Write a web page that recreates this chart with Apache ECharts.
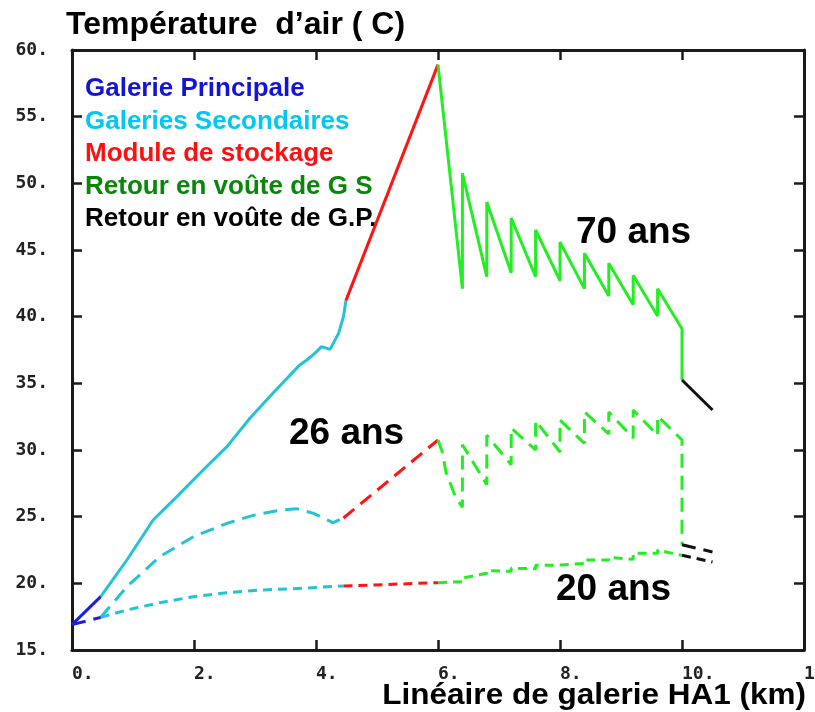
<!DOCTYPE html>
<html>
<head>
<meta charset="utf-8">
<script src="https://cdn.jsdelivr.net/npm/echarts@6/dist/echarts.min.js"></script>
<style>
  html, body { margin: 0; padding: 0; background: #ffffff; overflow: hidden; }
  #chart { width: 815px; height: 712px; }
</style>
</head>
<body>
<div id="chart"></div>
<script>
// Axis ranges (km along gallery HA1, air temperature in degrees C)
const kmRange = [0, 12];
const kmStep = 2;
const tempRange = [15, 60];
const tempStep = 5;

// ---- 70 years (solid) ----
const principal70 = [[0, 16.9], [0.47, 19.0]];
const secondary70 = [[0.47, 19.0], [0.9, 21.75], [1.33, 24.75], [1.72, 26.5], [2.15, 28.5], [2.54, 30.25],
  [2.92, 32.4], [3.3, 34.3], [3.55, 35.5], [3.74, 36.4], [3.85, 36.75], [3.98, 37.25], [4.09, 37.75],
  [4.23, 37.55], [4.37, 38.75], [4.45, 40.0], [4.49, 41.2]];
const storage70 = [[4.49, 41.2], [6.0, 58.9]];
const returnGS70 = [[6.0, 58.9], [6.4, 42.1], [6.4, 50.75], [6.8, 43.0], [6.8, 48.6], [7.2, 43.3], [7.2, 47.4],
  [7.6, 43.0], [7.6, 46.5], [8.0, 42.7], [8.0, 45.6], [8.4, 42.1], [8.4, 44.75], [8.8, 41.55], [8.8, 44.0],
  [9.2, 40.9], [9.2, 43.1], [9.6, 40.05], [9.6, 42.1], [10.0, 39.1], [10.0, 35.25]];
const returnGP70 = [[10.0, 35.25], [10.5, 33.0]];

// ---- 26 years (long dashes) ----
const principalLow = [[0, 16.9], [0.47, 17.45]];
const secondary26 = [[0.47, 17.45], [0.9, 19.75], [1.44, 22.0], [1.99, 23.5], [2.54, 24.5], [2.97, 25.1],
  [3.36, 25.45], [3.68, 25.6], [3.96, 25.25], [4.28, 24.55], [4.45, 24.9]];
const storage26 = [[4.45, 24.9], [6.0, 30.75]];
const returnGS26 = [[6.0, 30.75], [6.07, 29.85], [6.13, 28.35], [6.28, 26.55], [6.4, 25.7], [6.4, 30.4],
  [6.8, 27.4], [6.8, 31.1], [7.2, 28.9], [7.2, 31.65], [7.6, 30.0], [7.6, 32.2], [8.0, 29.85], [8.0, 32.25],
  [8.4, 30.5], [8.4, 32.85], [8.8, 31.2], [8.8, 32.85], [9.2, 30.9], [9.2, 33.0], [9.6, 31.1], [9.6, 32.55],
  [10.0, 30.75], [10.0, 22.9]];
const returnGP26 = [[10.0, 22.9], [10.5, 22.35]];

// ---- 20 years (short dashes) ----
const secondary20 = [[0.47, 17.45], [0.9, 18.0], [1.44, 18.55], [1.99, 19.0], [2.54, 19.3], [3.08, 19.5],
  [3.63, 19.6], [4.45, 19.8]];
const storage20 = [[4.45, 19.8], [6.0, 20.05]];
const returnGS20 = [[6.0, 20.05], [6.4, 20.12], [6.4, 20.4], [6.8, 20.75], [6.8, 20.95], [7.2, 20.9], [7.2, 21.13],
  [7.6, 21.1], [7.6, 21.35], [8.0, 21.37], [8.0, 21.5], [8.4, 21.5], [8.4, 21.75], [8.8, 21.75], [8.8, 21.95],
  [9.2, 21.8], [9.2, 22.25], [9.6, 22.25], [9.6, 22.5], [10.0, 22.1]];
const returnGP20 = [[10.0, 22.1], [10.5, 21.6]];

// Legend entries and curve labels
const legendItems = [
  { text: 'Galerie Principale', color: '#1414d8' },
  { text: 'Galeries Secondaires', color: '#00c8f0' },
  { text: 'Module de stockage', color: '#ff1010' },
  { text: 'Retour en voûte de G S', color: '#0a860a' },
  { text: 'Retour en voûte de G.P.', color: '#000000' }
];
const curveLabels = [
  { text: '70 ans', x: 576, y: 233 },
  { text: '26 ans', x: 289, y: 434 },
  { text: '20 ans', x: 556, y: 590 }
];

const C_BLUE = '#1e1ee0', C_CYAN = '#22c4d4', C_RED = '#ff1414', C_GREEN = '#22ee22', C_BLACK = '#111111';
const DASH_LONG = [14, 8], DASH_SHORT = [9, 6];

function seg(data, color, dash) {
  return {
    type: 'line', data: data, showSymbol: false, symbol: 'none', animation: false, silent: true,
    lineStyle: { color: color, width: 3, type: dash || 'solid', cap: 'butt' },
    z: 3
  };
}

const monoFont = 'DejaVu Sans Mono';
const axisCommon = {
  type: 'value',
  splitLine: { show: false },
  axisLine: { show: true, onZero: false, lineStyle: { color: '#1a1a1a', width: 3 } },
  axisTick: { show: true, inside: true, length: 10, lineStyle: { color: '#1a1a1a', width: 2.5 } }
};

const chart = echarts.init(document.getElementById('chart'), null, { renderer: 'canvas' });

const graphics = [];
graphics.push({
  type: 'text', x: 66, y: 25,
  style: { text: 'Température  d’air ( C)', fill: '#000', font: 'bold 32px "Liberation Sans", Arial, sans-serif', verticalAlign: 'middle', align: 'left' }
});
graphics.push({
  type: 'text', x: 806, y: 696, scaleX: 1.05,
  style: { text: 'Linéaire de galerie HA1 (km)', fill: '#000', font: 'bold 30px "Liberation Sans", Arial, sans-serif', verticalAlign: 'middle', align: 'right' }
});
legendItems.forEach((it, i) => {
  graphics.push({
    type: 'text', x: 85, y: 89 + i * 32.5,
    style: { text: it.text, fill: it.color, font: 'bold 26px "Liberation Sans", Arial, sans-serif', verticalAlign: 'middle', align: 'left' }
  });
});
curveLabels.forEach(l => {
  graphics.push({
    type: 'text', x: l.x, y: l.y,
    style: { text: l.text, fill: '#000', font: 'bold 37px "Liberation Sans", Arial, sans-serif', verticalAlign: 'middle', align: 'left' }
  });
});

chart.setOption({
  animation: false,
  backgroundColor: '#ffffff',
  grid: { left: 72, right: 11, top: 50, bottom: 62, outerBoundsMode: 'none' },
  xAxis: [
    Object.assign({}, axisCommon, {
      position: 'bottom', min: kmRange[0], max: kmRange[1], interval: kmStep,
      axisLabel: { show: true, formatter: v => v + '.', align: 'left', margin: 15, showMinLabel: true, showMaxLabel: true,
        fontFamily: monoFont, fontWeight: 'bold', fontSize: 18, color: '#222' }
    }),
    Object.assign({}, axisCommon, {
      position: 'top', min: kmRange[0], max: kmRange[1], interval: kmStep,
      axisLabel: { show: false }
    })
  ],
  yAxis: [
    Object.assign({}, axisCommon, {
      position: 'left', min: tempRange[0], max: tempRange[1], interval: tempStep,
      axisLabel: { show: true, formatter: v => v + '.', margin: 24, padding: [0, 0, 8, 0], showMinLabel: true, showMaxLabel: true,
        fontFamily: monoFont, fontWeight: 'bold', fontSize: 18, color: '#222' }
    }),
    Object.assign({}, axisCommon, {
      position: 'right', min: tempRange[0], max: tempRange[1], interval: tempStep,
      axisLabel: { show: false }
    })
  ],
  series: [
    seg(secondary20, C_CYAN, DASH_SHORT),
    seg(storage20, C_RED, DASH_SHORT),
    seg(returnGS20, C_GREEN, DASH_SHORT),
    seg(returnGP20, C_BLACK, DASH_SHORT),
    seg(secondary26, C_CYAN, DASH_LONG),
    seg(storage26, C_RED, DASH_LONG),
    seg(returnGS26, C_GREEN, DASH_LONG),
    seg(returnGP26, C_BLACK, DASH_LONG),
    seg(principalLow, C_BLUE, DASH_LONG),
    seg(secondary70, C_CYAN),
    seg(storage70, C_RED),
    seg(returnGS70, C_GREEN),
    seg(returnGP70, C_BLACK),
    seg(principal70, C_BLUE)
  ],
  graphic: graphics
});
</script>
</body>
</html>
